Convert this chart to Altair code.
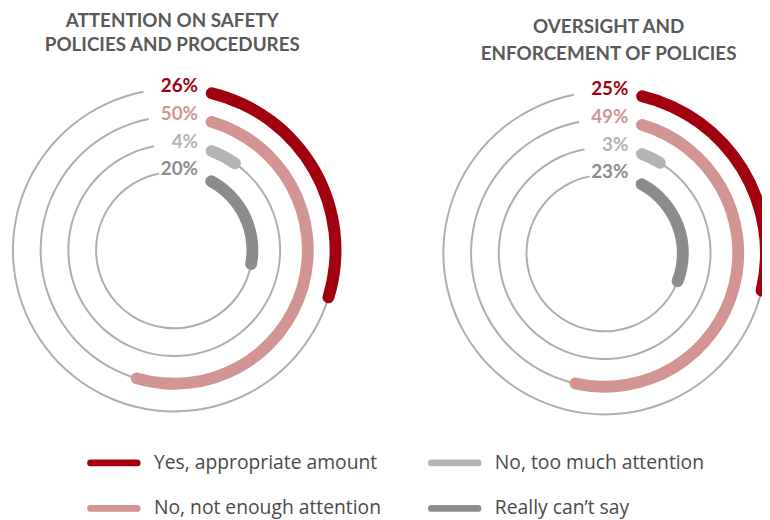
import math
import altair as alt
import pandas as pd

# ---- data ----
categories = ["Yes, appropriate amount", "No, not enough attention",
              "No, too much attention", "Really can’t say"]
panels = ["safety", "oversight"]
panel_titles = [["ATTENTION ON SAFETY", "POLICIES AND PROCEDURES"],
                ["OVERSIGHT AND", "ENFORCEMENT OF POLICIES"]]
safety_values = [26, 50, 4, 20]
oversight_values = [25, 49, 3, 23]
colors = ["#A2000F", "#D39494", "#B4B4B4", "#8C8C8C"]
legend_cols = [0, 0, 1, 1]
legend_rows = [0, 1, 0, 1]

# ---- layout / style ----
W, H = 762, 512
CX = [168, 603]
CY = [242, 245]
R_OUT, R_IN = 163, 79
BAND = 12
START_GAP = 32
TRACK_END = 349
TRACK_COLOR = "#A9B0B2"
FONT = "Lato"
LEG_FONT = "Open Sans"

rows = []
for pi, vals in enumerate([safety_values, oversight_values]):
    for ring, (cat, v) in enumerate(zip(categories, vals)):
        r = R_OUT - ring * (R_OUT - R_IN) / 3
        t0 = math.degrees(math.asin(START_GAP / r))
        cap = math.degrees((BAND / 2) / r)
        rows.append(dict(pidx=pi, ring=ring, cat=cat, value=v, label=f"{v}%",
                         t0=t0, t1=t0 + v * 3.6 + 2 * cap, tend=TRACK_END))
df = pd.DataFrame(rows)

trows = []
for pi, lines in enumerate(panel_titles):
    for li, txt in enumerate(lines):
        trows.append(dict(pidx=pi, line=li, text=txt))
df_titles = pd.DataFrame(trows)

df_leg = pd.DataFrame(dict(cat=categories, col=legend_cols, row=legend_rows))

cx = alt.X("pidx:Q", scale=alt.Scale(domain=[0, 1], range=CX), axis=None)
cy = alt.Y("pidx:Q", scale=alt.Scale(domain=[0, 1], range=CY), axis=None)
ring_scale = alt.Scale(type="linear", domain=[0, 3], range=[R_OUT, R_IN], zero=False)
theta_scale = alt.Scale(domain=[0, 360], range=[0, 2 * math.pi])
color = alt.Color("cat:N", scale=alt.Scale(domain=categories, range=colors), legend=None)

base = alt.Chart(df)

tracks = base.mark_arc(radiusOffset=1, radius2Offset=-1, color=TRACK_COLOR).encode(
    x=cx, y=cy,
    theta=alt.Theta("t0:Q", stack=None, scale=theta_scale),
    theta2=alt.Theta2("tend:Q"),
    radius=alt.Radius("ring:Q", scale=ring_scale),
    radius2=alt.Radius2("ring:Q"),
)

arcs = base.mark_arc(radiusOffset=BAND / 2, radius2Offset=-BAND / 2,
                     cornerRadius=BAND / 2).encode(
    x=cx, y=cy,
    theta=alt.Theta("t0:Q", stack=None, scale=theta_scale),
    theta2=alt.Theta2("t1:Q"),
    radius=alt.Radius("ring:Q", scale=ring_scale),
    radius2=alt.Radius2("ring:Q"),
    color=color,
)

labels = base.mark_text(align="right", baseline="middle", dx=24, radiusOffset=2.5,
                        font=FONT, fontWeight="bold", fontSize=19).encode(
    x=cx, y=cy,
    theta=alt.value(0),
    radius=alt.Radius("ring:Q", scale=ring_scale),
    text="label:N",
    color=color,
)


def title_layer(pi, r_range, dx):
    return alt.Chart(df_titles[df_titles.pidx == pi]).mark_text(
        align="center", baseline="middle", dx=dx,
        font=FONT, fontWeight="bold", fontSize=19, color="#595959").encode(
        x=cx, y=cy,
        theta=alt.value(0),
        radius=alt.Radius("line:Q", scale=alt.Scale(type="linear", domain=[0, 1],
                                                    range=r_range, zero=False)),
        text="text:N",
    )


titles_l = title_layer(0, [232, 207], -2)
titles_r = title_layer(1, [228, 201], 4)

lx = alt.X("col:Q", scale=alt.Scale(domain=[0, 1], range=[83.5, 428]), axis=None)
ly = alt.Y("row:Q", scale=alt.Scale(domain=[0, 1], range=[457, 503]), axis=None)

leg_rules = alt.Chart(df_leg).mark_rule(strokeWidth=7, strokeCap="round", x2Offset=47).encode(
    x=lx, x2=alt.X2("col:Q"), y=ly, color=color,
)
leg_text = alt.Chart(df_leg).mark_text(align="left", baseline="middle", dx=64,
                                       font=LEG_FONT, fontSize=19.5, color="#4A4A4A").encode(
    x=lx, y=ly, text="cat:N",
)

chart = alt.layer(tracks, arcs, labels, titles_l, titles_r, leg_rules, leg_text).resolve_scale(
    x="independent", y="independent", radius="independent", theta="independent"
).properties(
    width=W, height=H, padding=0, background="white",
    autosize=alt.AutoSizeParams(type="none"),
).configure_view(stroke=None)

chart.save("out.html", embed_options={"renderer": "svg", "actions": False})
